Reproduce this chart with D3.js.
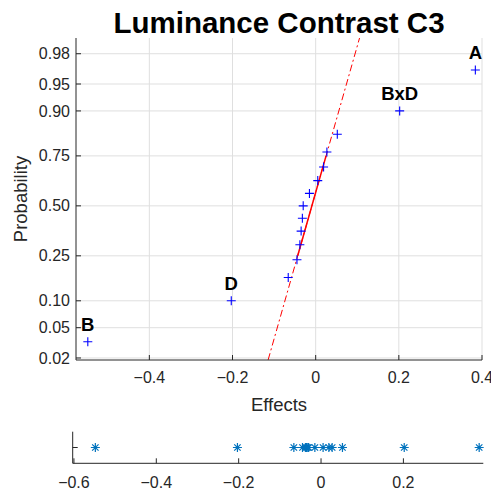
<!DOCTYPE html>
<html>
<head>
<meta charset="utf-8">
<script src="https://cdn.jsdelivr.net/npm/d3@7"></script>
<style>
  body { margin: 0; background: #fff; }
  text { font-family: "Liberation Sans", Arial, Helvetica, sans-serif; fill: #262626; }
</style>
</head>
<body>
<svg id="chart" width="491" height="492"></svg>
<script>
// effects, sorted ascending
const effects = [-0.548, -0.203, -0.066, -0.045, -0.038, -0.035, -0.032, -0.030,
                 -0.015, 0.005, 0.019, 0.027, 0.052, 0.202, 0.384];
const effectLabels = ['B', 'D', '', '', '', '', '', '', '', '', '', '', '', 'BxD', 'A'];
const probTicks = [0.02, 0.05, 0.10, 0.25, 0.50, 0.75, 0.90, 0.95, 0.98];
const effectTicks = [-0.4, -0.2, 0, 0.2, 0.4];
const stripTicks = [-0.6, -0.4, -0.2, 0, 0.2];

// axis limits
const xLim = [-0.5764, 0.4];
const zLim = [-2.081, 2.266];   // probit units
const stripLim = [-0.603, 0.394];

// inverse normal cdf (Acklam)
function probit(p) {
  const a = [-39.69683028665376, 220.9460984245205, -275.9285104469687, 138.3577518672690, -30.66479806614716, 2.506628277459239];
  const b = [-54.47609879822406, 161.5858368580409, -155.6989798598866, 66.80131188771972, -13.28068155288572];
  const c = [-0.007784894002430293, -0.3223964580411365, -2.400758277161838, -2.549732539343734, 4.374664141464968, 2.938163982698783];
  const d = [0.007784695709041462, 0.3224671290700398, 2.445134137142996, 3.754408661907416];
  const pl = 0.02425;
  if (p < pl) {
    const q = Math.sqrt(-2 * Math.log(p));
    return (((((c[0]*q+c[1])*q+c[2])*q+c[3])*q+c[4])*q+c[5]) / ((((d[0]*q+d[1])*q+d[2])*q+d[3])*q+1);
  }
  if (p > 1 - pl) {
    const q = Math.sqrt(-2 * Math.log(1 - p));
    return -(((((c[0]*q+c[1])*q+c[2])*q+c[3])*q+c[4])*q+c[5]) / ((((d[0]*q+d[1])*q+d[2])*q+d[3])*q+1);
  }
  const q = p - 0.5, r = q * q;
  return (((((a[0]*r+a[1])*r+a[2])*r+a[3])*r+a[4])*r+a[5])*q / (((((b[0]*r+b[1])*r+b[2])*r+b[3])*r+b[4])*r+1);
}

// matlab style prctile on sorted data
function prctile(sorted, pct) {
  const n = sorted.length;
  const pos = n * pct / 100 + 0.5;
  if (pos <= 1) return sorted[0];
  if (pos >= n) return sorted[n - 1];
  const i = Math.floor(pos), f = pos - i;
  return sorted[i - 1] + f * (sorted[i] - sorted[i - 1]);
}

const svg = d3.select('#chart');
const main = { left: 76, right: 482, top: 38, bottom: 360 };
const strip = { left: 72.7, right: 483.3, top: 431.7, bottom: 463.3 };

const x = d3.scaleLinear().domain(xLim).range([main.left, main.right]);
const y = d3.scaleLinear().domain(zLim).range([main.bottom, main.top]);
const xs = d3.scaleLinear().domain(stripLim).range([strip.left, strip.right]);

const n = effects.length;
const points = effects.map((e, i) => ({ e, z: probit((i + 0.5) / n), label: effectLabels[i] }));

// grid
svg.append('g').selectAll('line').data(effectTicks).join('line')
  .attr('x1', d => x(d)).attr('x2', d => x(d))
  .attr('y1', main.top).attr('y2', main.bottom)
  .attr('stroke', '#dfdfdf').attr('stroke-width', 1);
svg.append('g').selectAll('line').data(probTicks).join('line')
  .attr('x1', main.left).attr('x2', main.right)
  .attr('y1', d => y(probit(d))).attr('y2', d => y(probit(d)))
  .attr('stroke', '#dfdfdf').attr('stroke-width', 1);

// reference line through the quartiles
svg.append('clipPath').attr('id', 'clip').append('rect')
  .attr('x', main.left).attr('y', main.top)
  .attr('width', main.right - main.left).attr('height', main.bottom - main.top);

const q1x = prctile(effects, 25), q3x = prctile(effects, 75);
const q1z = probit(0.25), q3z = probit(0.75);
const slope = (q3z - q1z) / (q3x - q1x);
const cx = (q1x + q3x) / 2, cz = (q1z + q3z) / 2;
const minx = d3.min(effects), maxx = d3.max(effects);
const line = d3.line().x(d => x(d[0])).y(d => y(d[1]));

const refG = svg.append('g').attr('clip-path', 'url(#clip)');
refG.append('path')
  .attr('d', line([[minx, cz + slope * (minx - cx)], [maxx, cz + slope * (maxx - cx)]]))
  .attr('stroke', '#ff0000').attr('stroke-width', 1).attr('fill', 'none')
  .attr('stroke-dasharray', '7,3,2,3');
refG.append('path')
  .attr('d', line([[q1x, q1z], [q3x, q3z]]))
  .attr('stroke', '#ff0000').attr('stroke-width', 1.5).attr('fill', 'none');

// plus markers
const plus = 'M-4.5,0H4.5M0,-4.5V4.5';
svg.append('g').selectAll('path').data(points).join('path')
  .attr('d', plus)
  .attr('transform', d => `translate(${x(d.e)},${y(d.z)})`)
  .attr('stroke', '#0000ff').attr('stroke-width', 1.1).attr('fill', 'none');

// point labels
svg.append('g').selectAll('text').data(points.filter(d => d.label)).join('text')
  .attr('x', d => x(d.e)).attr('y', d => y(d.z) - 11)
  .attr('text-anchor', 'middle')
  .style('font-size', '18.5px').style('font-weight', 'bold').style('fill', '#000')
  .text(d => d.label);

// main axes
const axisColor = '#262626';
svg.append('line').attr('x1', main.left).attr('x2', main.left)
  .attr('y1', main.top).attr('y2', main.bottom).attr('stroke', axisColor);
svg.append('line').attr('x1', main.left).attr('x2', main.right)
  .attr('y1', main.bottom).attr('y2', main.bottom).attr('stroke', axisColor);

svg.append('g').selectAll('line').data(probTicks).join('line')
  .attr('x1', main.left).attr('x2', main.left + 5)
  .attr('y1', d => y(probit(d))).attr('y2', d => y(probit(d)))
  .attr('stroke', axisColor);
svg.append('g').selectAll('text').data(probTicks).join('text')
  .attr('x', main.left - 6).attr('y', d => y(probit(d)))
  .attr('dy', '0.35em').attr('text-anchor', 'end')
  .style('font-size', '16px')
  .text(d => d3.format('.2f')(d));

svg.append('g').selectAll('line').data(effectTicks).join('line')
  .attr('x1', d => x(d)).attr('x2', d => x(d))
  .attr('y1', main.bottom).attr('y2', main.bottom - 5)
  .attr('stroke', axisColor);
svg.append('g').selectAll('text').data(effectTicks).join('text')
  .attr('x', d => x(d)).attr('y', 383)
  .attr('text-anchor', 'middle')
  .style('font-size', '16px')
  .text(d => d3.format('')(d));

// titles
svg.append('text').attr('x', (main.left + main.right) / 2).attr('y', 33)
  .attr('text-anchor', 'middle')
  .style('font-size', '29.5px').style('font-weight', 'bold').style('fill', '#000')
  .text('Luminance Contrast C3');
svg.append('text').attr('x', (main.left + main.right) / 2).attr('y', 411)
  .attr('text-anchor', 'middle').style('font-size', '18.5px')
  .text('Effects');
svg.append('text')
  .attr('transform', `translate(27,${(main.top + main.bottom) / 2}) rotate(-90)`)
  .attr('text-anchor', 'middle').style('font-size', '18.5px')
  .text('Probability');

// strip of effects below
const stripMid = (strip.top + strip.bottom) / 2;
svg.append('line').attr('x1', strip.left).attr('x2', strip.left)
  .attr('y1', strip.top).attr('y2', strip.bottom).attr('stroke', axisColor);
svg.append('line').attr('x1', strip.left).attr('x2', strip.right)
  .attr('y1', strip.bottom).attr('y2', strip.bottom).attr('stroke', axisColor);
svg.append('line').attr('x1', strip.left).attr('x2', strip.left + 5)
  .attr('y1', stripMid).attr('y2', stripMid).attr('stroke', axisColor);
svg.append('g').selectAll('line').data(stripTicks).join('line')
  .attr('x1', d => xs(d)).attr('x2', d => xs(d))
  .attr('y1', strip.bottom).attr('y2', strip.bottom - 5)
  .attr('stroke', axisColor);
svg.append('g').selectAll('text').data(stripTicks).join('text')
  .attr('x', d => xs(d)).attr('y', 488)
  .attr('text-anchor', 'middle')
  .style('font-size', '16px')
  .text(d => d3.format('')(d));

const star = 'M-4.5,0H4.5M0,-4.5V4.5M-3.2,-3.2L3.2,3.2M-3.2,3.2L3.2,-3.2';
svg.append('g').selectAll('path').data(effects).join('path')
  .attr('d', star)
  .attr('transform', d => `translate(${xs(d)},${stripMid})`)
  .attr('stroke', '#0072bd').attr('stroke-width', 1.2).attr('fill', 'none');
</script>
</body>
</html>
